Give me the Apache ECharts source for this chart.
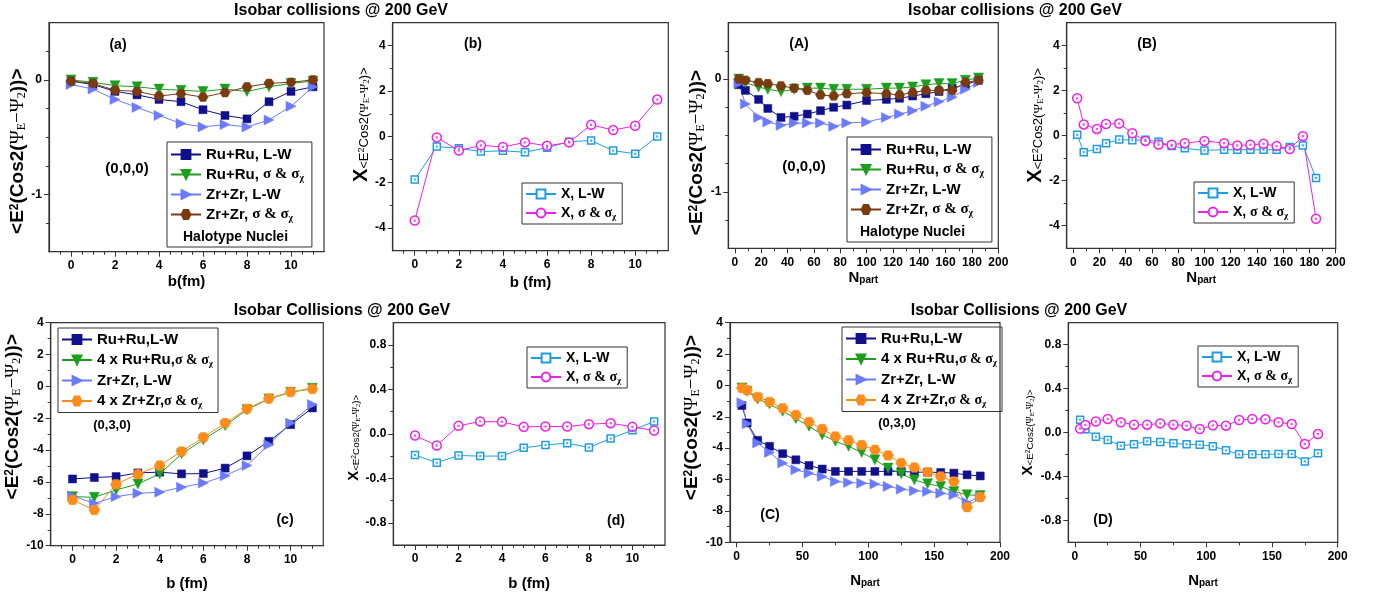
<!DOCTYPE html>
<html><head><meta charset="utf-8">
<script src="https://cdn.jsdelivr.net/npm/echarts@6/dist/echarts.min.js"></script>
<style>html,body{margin:0;padding:0;background:#fff}#c{width:1388px;height:595px}</style>
</head><body><div id="c"></div>
<script>
// ---------------- DATA ----------------
const bFm = [0,1,2,3,4,5,6,7,8,9,10,11];
const npartTop = [3,8,18,25,35,45,55,65,75,85,100,115,125,135,145,155,165,175,185];
const npartBot = [4,8,16,25,35,45,55,65,75,85,95,105,115,125,135,145,155,165,175,185];

// (a)
const a_RuRu_LW  = [-0.01,-0.04,-0.10,-0.13,-0.17,-0.19,-0.26,-0.31,-0.34,-0.19,-0.10,-0.06];
const a_RuRu_Sig = [0.00,-0.02,-0.05,-0.06,-0.08,-0.09,-0.10,-0.08,-0.10,-0.06,-0.03,-0.01];
const a_ZrZr_LW  = [-0.04,-0.08,-0.17,-0.24,-0.31,-0.38,-0.41,-0.39,-0.41,-0.35,-0.23,-0.06];
const a_ZrZr_Sig = [-0.01,-0.03,-0.09,-0.10,-0.14,-0.12,-0.15,-0.11,-0.06,-0.03,-0.02,0.00];
// (b)
const b_X_LW  = [-1.88,-0.43,-0.51,-0.65,-0.62,-0.68,-0.48,-0.22,-0.17,-0.61,-0.75,0.01];
const b_X_Sig = [-3.68,-0.03,-0.61,-0.38,-0.45,-0.25,-0.40,-0.25,0.52,0.29,0.48,1.63];
// (A)
const A_RuRu_LW  = [-0.05,-0.10,-0.18,-0.26,-0.34,-0.33,-0.31,-0.28,-0.25,-0.23,-0.19,-0.18,-0.17,-0.15,-0.13,-0.11,-0.08,-0.05,-0.01];
const A_RuRu_Sig = [0.00,-0.03,-0.07,-0.09,-0.11,-0.09,-0.08,-0.08,-0.09,-0.09,-0.09,-0.08,-0.08,-0.07,-0.05,-0.04,-0.04,-0.01,0.01];
const A_ZrZr_LW  = [-0.04,-0.22,-0.34,-0.38,-0.41,-0.39,-0.39,-0.39,-0.42,-0.39,-0.38,-0.34,-0.31,-0.28,-0.24,-0.20,-0.16,-0.09,-0.03];
const A_ZrZr_Sig = [0.00,-0.01,-0.03,-0.04,-0.06,-0.08,-0.10,-0.14,-0.15,-0.13,-0.12,-0.13,-0.14,-0.12,-0.10,-0.10,-0.10,-0.03,-0.01];
// (B)
const B_X_LW  = [0.03,-0.74,-0.60,-0.34,-0.18,-0.21,-0.19,-0.28,-0.46,-0.57,-0.66,-0.63,-0.63,-0.63,-0.63,-0.63,-0.51,-0.44,-1.88];
const B_X_Sig = [1.65,0.49,0.29,0.51,0.53,0.10,-0.24,-0.40,-0.41,-0.34,-0.24,-0.34,-0.44,-0.41,-0.37,-0.47,-0.60,-0.03,-3.69];
// (c)
const c_RuRu_LW   = [-5.81,-5.72,-5.66,-5.43,-5.38,-5.49,-5.47,-5.13,-4.36,-3.45,-2.40,-1.35];
const c_RuRu_Sig4 = [-6.92,-6.96,-6.50,-6.12,-5.49,-4.23,-3.35,-2.46,-1.46,-0.79,-0.37,-0.11];
const c_ZrZr_LW   = [-6.88,-7.34,-6.92,-6.71,-6.64,-6.33,-6.07,-5.61,-4.96,-3.66,-2.30,-1.14];
const c_ZrZr_Sig4 = [-7.13,-7.76,-6.14,-5.51,-4.96,-4.08,-3.20,-2.30,-1.41,-0.76,-0.35,-0.16];
// (d)
const d_X_LW  = [-0.19,-0.26,-0.195,-0.20,-0.20,-0.126,-0.10,-0.084,-0.123,-0.042,0.033,0.111];
const d_X_Sig = [-0.015,-0.105,0.072,0.111,0.108,0.063,0.066,0.066,0.087,0.096,0.063,0.030];
// (C)
const C_RuRu_LW   = [-1.28,-2.39,-3.50,-3.88,-4.35,-4.74,-5.10,-5.33,-5.48,-5.48,-5.48,-5.48,-5.48,-5.48,-5.53,-5.53,-5.55,-5.59,-5.70,-5.77];
const C_RuRu_Sig4 = [-0.16,-0.37,-0.86,-1.18,-1.65,-2.11,-2.60,-3.14,-3.56,-3.88,-4.27,-4.74,-5.27,-5.63,-6.02,-6.27,-6.44,-6.76,-6.97,-7.02];
const C_ZrZr_LW   = [-1.10,-2.44,-3.67,-4.27,-4.95,-5.38,-5.59,-5.80,-6.12,-6.19,-6.23,-6.29,-6.44,-6.61,-6.72,-6.76,-6.87,-6.97,-7.47,-7.08];
const C_ZrZr_Sig4 = [-0.16,-0.30,-0.73,-1.05,-1.46,-1.88,-2.33,-2.78,-3.25,-3.50,-3.80,-4.10,-4.46,-4.95,-5.23,-5.53,-5.80,-6.12,-7.76,-7.12];
// (D)
const D_X_LW  = [0.117,0.03,-0.038,-0.068,-0.12,-0.108,-0.08,-0.087,-0.099,-0.108,-0.111,-0.126,-0.162,-0.199,-0.199,-0.199,-0.196,-0.196,-0.263,-0.19];
const D_X_Sig = [0.035,0.068,0.10,0.123,0.093,0.071,0.071,0.083,0.071,0.062,0.032,0.065,0.062,0.114,0.123,0.12,0.093,0.077,-0.105,-0.014];

// tick values
const bMajor = [0,2,4,6,8,10];
const bMinor = [-0.5,0.5,1,1.5,2.5,3,3.5,4.5,5,5.5,6.5,7,7.5,8.5,9,9.5,10.5,11];
const n20Major = [0,20,40,60,80,100,120,140,160,180,200];
const n20Minor = [10,30,50,70,90,110,130,150,170,190];
const n50Major = [0,50,100,150,200];
const n50Minor = [25,75,125,175];
const ySmallMajor = [-1,0];
const ySmallMinor = [-1.25,-0.75,-0.5,-0.25,0.25];
const yX5Major = [-4,-2,0,2,4];
const yX5Minor = [-3,-1,1,3];
const yBigMajor = [-10,-8,-6,-4,-2,0,2,4];
const yBigMinor = [-9,-7,-5,-3,-1,1,3];
const yX1Major = [-0.8,-0.4,0,0.4,0.8];
const yX1Minor = [-0.6,-0.2,0.2,0.6];

// ---------------- STYLE ----------------
const SANS = '"Liberation Sans", Arial, sans-serif';
const SERIF = '"Liberation Serif", "DejaVu Serif", serif';
const AXC = '#333333';
const C = {navy:'#10108C', green:'#1E9E1E', lblue:'#6B7BFF', brown:'#7A3B10', orange:'#FF8C1A', azure:'#1E9CE6', mag:'#F020E8'};
const HEX = 'path://M2.5,0.67L7.5,0.67L10,5L7.5,9.33L2.5,9.33L0,5Z';
const ST = {
  navySq:   {symbol:'rect', size:8, color:C.navy},
  greenTri: {symbol:'triangle', rot:180, size:10, color:C.green},
  lblueTri: {symbol:'triangle', rot:-90, size:10, color:C.lblue},
  brownHex: {symbol:HEX, size:10, color:C.brown},
  orangeHex:{symbol:HEX, size:11, color:C.orange},
  azureSq:  {symbol:'rect', size:7, color:C.azure, hollow:true},
  magCirc:  {symbol:'circle', size:9, color:C.mag, hollow:true}
};
const intFmt = v => String(Math.round(v));
const fix1 = v => v.toFixed(1);

const yNameBig = '{b|<E}{sup|2}{b|(Cos2(}{g|Ψ}{gs|E}{g|−Ψ}{gs|2}{b|))>}';
function richBig(){ return {
  b:{fontSize:19,fontWeight:'bold',fontFamily:SANS,color:'#000'},
  sup:{fontSize:12,fontWeight:'bold',fontFamily:SANS,color:'#000',verticalAlign:'top'},
  g:{fontSize:19,fontFamily:SERIF,color:'#000'},
  gs:{fontSize:12,fontFamily:SERIF,color:'#000',verticalAlign:'bottom'}
};}
const yNameX = '{X|X}{s|<E}{ss|2}{s|Cos2(}{sg|Ψ}{ssb|E}{sg|-Ψ}{ssb|2}{s|)>}';
function richX(k){ return {
  X:{fontSize:20*k,fontWeight:'bold',fontFamily:SANS,color:'#000'},
  s:{fontSize:13*k,fontFamily:SANS,color:'#000',verticalAlign:'bottom'},
  ss:{fontSize:9*k,fontFamily:SANS,color:'#000',verticalAlign:'middle'},
  sg:{fontSize:13*k,fontFamily:SERIF,color:'#000',verticalAlign:'bottom'},
  ssb:{fontSize:9*k,fontFamily:SERIF,color:'#000',verticalAlign:'bottom'}
};}
const xNpart = '{N|N}{p|part}';
const xNameRich = {
  N:{fontSize:15,fontWeight:'bold',fontFamily:SANS,color:'#000'},
  p:{fontSize:10,fontWeight:'bold',fontFamily:SANS,color:'#000',verticalAlign:'bottom'}
};

function legendFmt(name){
  const i = name.indexOf('σ');
  if (i < 0) return '{b|' + name + '}';
  return '{b|' + name.slice(0,i) + '}{g|σ & σ}{s|χ}';
}

const option = {animation:false, backgroundColor:'#fff', grid:[], xAxis:[], yAxis:[], series:[], legend:[], graphic:[]};

function build(p){
  const g = option.grid.length;
  const [L,T,R,B] = p.box;
  option.grid.push({left:L, top:T, width:R-L, height:B-T, show:true, borderColor:AXC, borderWidth:1.2, containLabel:false});
  const lab = {color:'#000', fontWeight:'bold', fontSize:12, fontFamily:SANS};
  const xi = option.xAxis.length, yi = option.yAxis.length;
  option.xAxis.push({gridIndex:g, type:'value', min:p.x.min, max:p.x.max, position:'bottom',
    axisLine:{show:true,onZero:false,lineStyle:{color:AXC,width:1.2}},
    axisTick:{show:true,length:5,customValues:p.x.major,lineStyle:{color:AXC,width:1}},
    axisLabel:Object.assign({customValues:p.x.major, margin:8, formatter:p.x.fmt||intFmt}, lab),
    splitLine:{show:false}, name:p.xName, nameLocation:'middle', nameGap:p.xGap,
    nameTextStyle:{fontSize:15,fontWeight:'bold',fontFamily:SANS,color:'#000',rich:xNameRich}});
  option.xAxis.push({gridIndex:g, type:'value', min:p.x.min, max:p.x.max, position:'bottom',
    axisLine:{show:false,onZero:false}, axisTick:{show:true,length:3,customValues:p.x.minor,lineStyle:{color:AXC,width:1}},
    axisLabel:{show:false}, splitLine:{show:false}});
  option.yAxis.push({gridIndex:g, type:'value', min:p.y.min, max:p.y.max, position:'left',
    axisLine:{show:true,onZero:false,lineStyle:{color:AXC,width:1.2}},
    axisTick:{show:true,length:5,customValues:p.y.major,lineStyle:{color:AXC,width:1}},
    axisLabel:Object.assign({customValues:p.y.major, margin:7, formatter:p.y.fmt||intFmt}, lab),
    splitLine:{show:false}, name:p.yName, nameLocation:'middle', nameGap:p.yGap,
    nameTextStyle:{rich:p.yRich, padding:p.yPad}});
  option.yAxis.push({gridIndex:g, type:'value', min:p.y.min, max:p.y.max, position:'left',
    axisLine:{show:false,onZero:false}, axisTick:{show:true,length:3,customValues:p.y.minor,lineStyle:{color:AXC,width:1}},
    axisLabel:{show:false}, splitLine:{show:false}});
  const names = [];
  p.series.forEach(s => {
    const st = ST[s.style];
    const data = s.xs.map((x,i)=>[x, s.ys[i]]);
    names.push(s.name);
    option.series.push({type:'line', name:s.name, xAxisIndex:xi, yAxisIndex:yi, data,
      symbol:st.symbol, symbolSize:st.size, symbolRotate:st.rot||0, symbolKeepAspect:true,
      lineStyle:{color:st.color,width:1},
      itemStyle: st.hollow ? {color:'#fff', borderColor:st.color, borderWidth:1.5} : {color:st.color, borderColor:st.color, borderWidth:0.5},
      emphasis:{disabled:true}, z:2});
    if (st.hollow){
      option.series.push({type:'scatter', name:s.name+' dot', xAxisIndex:xi, yAxisIndex:yi, data,
        symbol:'rect', symbolSize:2.2, itemStyle:{color:st.color}, silent:true, z:4, emphasis:{disabled:true}});
    }
  });
  const lg = p.legend;
  option.legend.push({left:lg.left, top:lg.top, orient:'vertical', data:names, selectedMode:false,
    itemWidth:30, itemHeight:11, itemGap:lg.gap, padding:lg.pad, borderColor:AXC, borderWidth:1,
    formatter:legendFmt,
    textStyle:{fontSize:lg.fs, fontWeight:'bold', fontFamily:SANS, color:'#000', lineHeight:lg.lh,
      rich:{
        b:{fontSize:lg.fs,fontWeight:'bold',fontFamily:SANS,color:'#000',lineHeight:lg.lh},
        g:{fontSize:lg.gfs,fontFamily:SERIF,color:'#000',lineHeight:lg.lh},
        s:{fontSize:lg.gfs*0.65,fontFamily:SERIF,color:'#000',verticalAlign:'bottom',lineHeight:lg.lh}
      }}});
}

const xB = {min:-1,max:11.5,major:bMajor,minor:bMinor};
const xN20 = {min:-5,max:200,major:n20Major,minor:n20Minor};
const xN50 = {min:-5,max:200,major:n50Major,minor:n50Minor};
const ySmall = {min:-1.5,max:0.5,major:ySmallMajor,minor:ySmallMinor};
const yX5 = {min:-5,max:5,major:yX5Major,minor:yX5Minor};
const yBig = {min:-10,max:4,major:yBigMajor,minor:yBigMinor};
const yX1 = {min:-1,max:1,major:yX1Major,minor:yX1Minor,fmt:fix1};

const bigLegTop = (left,top)=>({left,top,gap:3,pad:[4,8,24,3],fs:15,gfs:15,lh:17});
const bigLeg = (left,top)=>({left,top,gap:3.5,pad:[3,5,3,3],fs:15,gfs:14,lh:17});
const xLeg = (left,top)=>({left,top,gap:3,pad:[3,6,3,3],fs:14,gfs:14,lh:16});

// (a)
build({box:[49,22.7,324,251.7], x:xB, y:ySmall, xName:'b(fm)', xGap:23, yName:yNameBig, yRich:richBig(), yGap:19, yPad:[0,28,0,0],
  legend:bigLegTop(167,142),
  series:[
    {name:'Ru+Ru, L-W', xs:bFm, ys:a_RuRu_LW, style:'navySq'},
    {name:'Ru+Ru, σ & σχ', xs:bFm, ys:a_RuRu_Sig, style:'greenTri'},
    {name:'Zr+Zr, L-W', xs:bFm, ys:a_ZrZr_LW, style:'lblueTri'},
    {name:'Zr+Zr, σ & σχ', xs:bFm, ys:a_ZrZr_Sig, style:'brownHex'}]});
// (b)
build({box:[392.7,22.7,668.3,250.7], x:xB, y:yX5, xName:'b (fm)', xGap:25, yName:yNameX, yRich:richX(1), yGap:20, yPad:[0,0,0,24],
  legend:xLeg(522,183),
  series:[
    {name:'X, L-W', xs:bFm, ys:b_X_LW, style:'azureSq'},
    {name:'X, σ & σχ', xs:bFm, ys:b_X_Sig, style:'magCirc'}]});
// (A)
build({box:[728.3,22.7,998.3,248.3], x:xN20, y:ySmall, xName:xNpart, xGap:22, yName:yNameBig, yRich:richBig(), yGap:19, yPad:[0,34,0,0],
  legend:bigLegTop(847,137),
  series:[
    {name:'Ru+Ru, L-W', xs:npartTop, ys:A_RuRu_LW, style:'navySq'},
    {name:'Ru+Ru, σ & σχ', xs:npartTop, ys:A_RuRu_Sig, style:'greenTri'},
    {name:'Zr+Zr, L-W', xs:npartTop, ys:A_ZrZr_LW, style:'lblueTri'},
    {name:'Zr+Zr, σ & σχ', xs:npartTop, ys:A_ZrZr_Sig, style:'brownHex'}]});
// (B)
build({box:[1066.7,22.7,1335.7,248.3], x:xN20, y:yX5, xName:xNpart, xGap:22, yName:yNameX, yRich:richX(1), yGap:14, yPad:[0,0,0,20],
  legend:xLeg(1194,182),
  series:[
    {name:'X, L-W', xs:npartTop, ys:B_X_LW, style:'azureSq'},
    {name:'X, σ & σχ', xs:npartTop, ys:B_X_Sig, style:'magCirc'}]});
// (c)
build({box:[50.7,322.7,323.3,545.7], x:xB, y:yBig, xName:'b (fm)', xGap:31, yName:yNameBig, yRich:richBig(), yGap:23, yPad:[0,0,0,35],
  legend:bigLeg(58,328),
  series:[
    {name:'Ru+Ru,L-W', xs:bFm, ys:c_RuRu_LW, style:'navySq'},
    {name:'4 x Ru+Ru,σ & σχ', xs:bFm, ys:c_RuRu_Sig4, style:'greenTri'},
    {name:'Zr+Zr, L-W', xs:bFm, ys:c_ZrZr_LW, style:'lblueTri'},
    {name:'4 x Zr+Zr,σ & σχ', xs:bFm, ys:c_ZrZr_Sig4, style:'orangeHex'}]});
// (d)
build({box:[393.3,322.7,665,545], x:xB, y:yX1, xName:'b (fm)', xGap:31, yName:yNameX, yRich:richX(0.75), yGap:30, yPad:[0,8,0,0],
  legend:xLeg(527,347),
  series:[
    {name:'X, L-W', xs:bFm, ys:d_X_LW, style:'azureSq'},
    {name:'X, σ & σχ', xs:bFm, ys:d_X_Sig, style:'magCirc'}]});
// (C)
build({box:[730,322.7,1000,542.3], x:xN50, y:yBig, xName:xNpart, xGap:31, yName:yNameBig, yRich:richBig(), yGap:24, yPad:[0,0,0,30],
  legend:bigLeg(842,327),
  series:[
    {name:'Ru+Ru,L-W', xs:npartBot, ys:C_RuRu_LW, style:'navySq'},
    {name:'4 x Ru+Ru,σ & σχ', xs:npartBot, ys:C_RuRu_Sig4, style:'greenTri'},
    {name:'Zr+Zr, L-W', xs:npartBot, ys:C_ZrZr_LW, style:'lblueTri'},
    {name:'4 x Zr+Zr,σ & σχ', xs:npartBot, ys:C_ZrZr_Sig4, style:'orangeHex'}]});
// (D)
build({box:[1068.3,322.7,1337.7,542.3], x:xN50, y:yX1, xName:xNpart, xGap:31, yName:yNameX, yRich:richX(0.75), yGap:33, yPad:[0,0,0,0],
  legend:xLeg(1198,346),
  series:[
    {name:'X, L-W', xs:npartBot, ys:D_X_LW, style:'azureSq'},
    {name:'X, σ & σχ', xs:npartBot, ys:D_X_Sig, style:'magCirc'}]});

// ---------------- TEXT ANNOTATIONS ----------------
function txt(x, y, text, size, align){
  return {type:'text', x, y, silent:true, z:100,
    style:{text, font:'bold '+size+'px '+SANS, fill:'#000', align:align||'center', verticalAlign:'middle'}};
}
option.graphic = [
  txt(341,11,'Isobar collisions @ 200 GeV',16),
  txt(1015,11,'Isobar collisions @ 200 GeV',16),
  txt(342,311,'Isobar Collisions @ 200 GeV',16),
  txt(1019,311,'Isobar Collisions @ 200 GeV',16),
  txt(118,45,'(a)',14), txt(473,44,'(b)',14), txt(799,44,'(A)',14), txt(1147,44,'(B)',14),
  txt(285,520,'(c)',14), txt(616,521,'(d)',14), txt(770,515,'(C)',14), txt(1103,520,'(D)',14),
  txt(127,169,'(0,0,0)',15), txt(804,167,'(0,0,0)',15),
  txt(112,425,'(0,3,0)',13), txt(897,423,'(0,3,0)',13),
  txt(183,237,'Halotype Nuclei',14,'left'), txt(860,232,'Halotype Nuclei',14,'left')
];

const chart = echarts.init(document.getElementById('c'), null, {renderer:'canvas'});
chart.setOption(option);
</script></body></html>
